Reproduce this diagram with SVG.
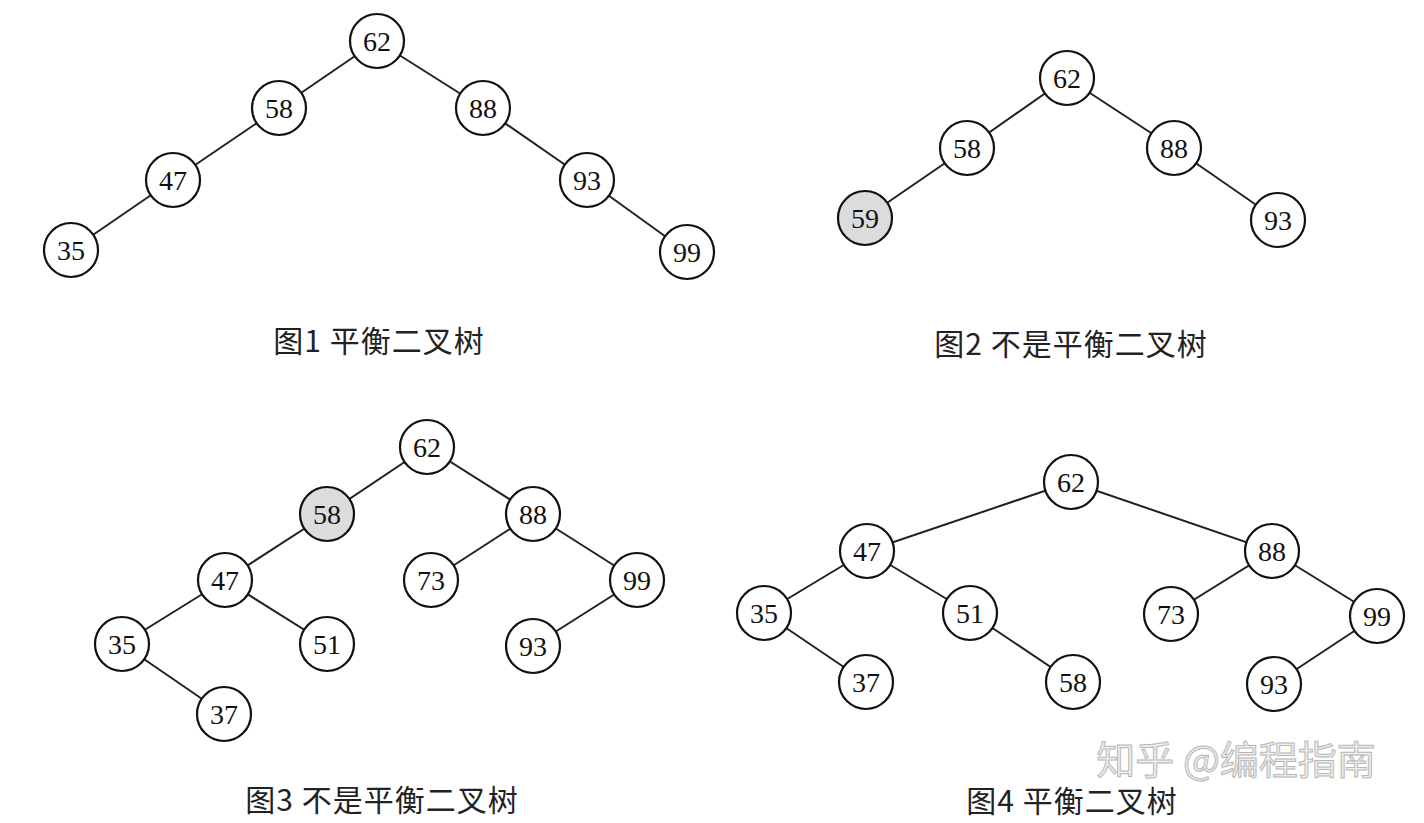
<svg xmlns="http://www.w3.org/2000/svg" width="1424" height="823" viewBox="0 0 1424 823">
<style>
.n circle{fill:#fff;stroke:#111;stroke-width:2.2}
.n.g circle{fill:#dcdcdc}
.n text{font-family:"Liberation Serif","Times New Roman",serif;font-size:28px;fill:#111;text-anchor:middle;dominant-baseline:central}
.e line{stroke:#222;stroke-width:2}
.cap{font-family:"Noto Sans CJK SC","Noto Sans",sans-serif;font-size:30px;letter-spacing:1px;fill:#222;text-anchor:middle}
.wm{font-family:"Noto Sans CJK SC","Noto Sans",sans-serif;font-size:39px;fill:#eeeeee;stroke:#b8b8b8;stroke-width:1;text-anchor:middle}
</style>
<rect width="1424" height="823" fill="#fff"/>
<g class="e" id="connectors">
<line x1="377" y1="41" x2="279" y2="108"/>
<line x1="377" y1="41" x2="483" y2="108"/>
<line x1="279" y1="108" x2="173" y2="180"/>
<line x1="173" y1="180" x2="71" y2="250"/>
<line x1="483" y1="108" x2="587" y2="180"/>
<line x1="587" y1="180" x2="687" y2="252"/>
<line x1="1067" y1="78" x2="967" y2="148"/>
<line x1="1067" y1="78" x2="1174" y2="148"/>
<line x1="967" y1="148" x2="865" y2="218"/>
<line x1="1174" y1="148" x2="1278" y2="220"/>
<line x1="427" y1="447" x2="327" y2="514"/>
<line x1="427" y1="447" x2="533" y2="514"/>
<line x1="327" y1="514" x2="225" y2="580"/>
<line x1="225" y1="580" x2="122" y2="644"/>
<line x1="225" y1="580" x2="327" y2="644"/>
<line x1="122" y1="644" x2="224" y2="714"/>
<line x1="533" y1="514" x2="431" y2="580"/>
<line x1="533" y1="514" x2="637" y2="580"/>
<line x1="637" y1="580" x2="533" y2="646"/>
<line x1="1071" y1="482" x2="867" y2="551"/>
<line x1="1071" y1="482" x2="1272" y2="551"/>
<line x1="867" y1="551" x2="764" y2="613"/>
<line x1="867" y1="551" x2="970" y2="613"/>
<line x1="764" y1="613" x2="866" y2="682"/>
<line x1="970" y1="613" x2="1073" y2="682"/>
<line x1="1272" y1="551" x2="1171" y2="614"/>
<line x1="1272" y1="551" x2="1377" y2="616"/>
<line x1="1377" y1="616" x2="1274" y2="684"/>
</g>
<g class="n" id="f1-62"><circle cx="377" cy="41" r="27"/><text x="377" y="41">62</text></g>
<g class="n" id="f1-58"><circle cx="279" cy="108" r="27"/><text x="279" y="108">58</text></g>
<g class="n" id="f1-88"><circle cx="483" cy="108" r="27"/><text x="483" y="108">88</text></g>
<g class="n" id="f1-47"><circle cx="173" cy="180" r="27"/><text x="173" y="180">47</text></g>
<g class="n" id="f1-93"><circle cx="587" cy="180" r="27"/><text x="587" y="180">93</text></g>
<g class="n" id="f1-35"><circle cx="71" cy="250" r="27"/><text x="71" y="250">35</text></g>
<g class="n" id="f1-99"><circle cx="687" cy="252" r="27"/><text x="687" y="252">99</text></g>
<g class="n" id="f2-62"><circle cx="1067" cy="78" r="27"/><text x="1067" y="78">62</text></g>
<g class="n" id="f2-58"><circle cx="967" cy="148" r="27"/><text x="967" y="148">58</text></g>
<g class="n" id="f2-88"><circle cx="1174" cy="148" r="27"/><text x="1174" y="148">88</text></g>
<g class="n g" id="f2-59"><circle cx="865" cy="218" r="27"/><text x="865" y="218">59</text></g>
<g class="n" id="f2-93"><circle cx="1278" cy="220" r="27"/><text x="1278" y="220">93</text></g>
<g class="n" id="f3-62"><circle cx="427" cy="447" r="27"/><text x="427" y="447">62</text></g>
<g class="n g" id="f3-58"><circle cx="327" cy="514" r="27"/><text x="327" y="514">58</text></g>
<g class="n" id="f3-88"><circle cx="533" cy="514" r="27"/><text x="533" y="514">88</text></g>
<g class="n" id="f3-47"><circle cx="225" cy="580" r="27"/><text x="225" y="580">47</text></g>
<g class="n" id="f3-73"><circle cx="431" cy="580" r="27"/><text x="431" y="580">73</text></g>
<g class="n" id="f3-99"><circle cx="637" cy="580" r="27"/><text x="637" y="580">99</text></g>
<g class="n" id="f3-35"><circle cx="122" cy="644" r="27"/><text x="122" y="644">35</text></g>
<g class="n" id="f3-51"><circle cx="327" cy="644" r="27"/><text x="327" y="644">51</text></g>
<g class="n" id="f3-93"><circle cx="533" cy="646" r="27"/><text x="533" y="646">93</text></g>
<g class="n" id="f3-37"><circle cx="224" cy="714" r="27"/><text x="224" y="714">37</text></g>
<g class="n" id="f4-62"><circle cx="1071" cy="482" r="27"/><text x="1071" y="482">62</text></g>
<g class="n" id="f4-47"><circle cx="867" cy="551" r="27"/><text x="867" y="551">47</text></g>
<g class="n" id="f4-88"><circle cx="1272" cy="551" r="27"/><text x="1272" y="551">88</text></g>
<g class="n" id="f4-35"><circle cx="764" cy="613" r="27"/><text x="764" y="613">35</text></g>
<g class="n" id="f4-51"><circle cx="970" cy="613" r="27"/><text x="970" y="613">51</text></g>
<g class="n" id="f4-73"><circle cx="1171" cy="614" r="27"/><text x="1171" y="614">73</text></g>
<g class="n" id="f4-99"><circle cx="1377" cy="616" r="27"/><text x="1377" y="616">99</text></g>
<g class="n" id="f4-37"><circle cx="866" cy="682" r="27"/><text x="866" y="682">37</text></g>
<g class="n" id="f4-58"><circle cx="1073" cy="682" r="27"/><text x="1073" y="682">58</text></g>
<g class="n" id="f4-93"><circle cx="1274" cy="684" r="27"/><text x="1274" y="684">93</text></g>
<text class="cap" x="379" y="352">图1 平衡二叉树</text>
<text class="cap" x="1071" y="355">图2 不是平衡二叉树</text>
<text class="cap" x="382" y="811">图3 不是平衡二叉树</text>
<text class="cap" x="1072" y="812">图4 平衡二叉树</text>
<text class="wm" x="1236" y="774">知乎 @编程指南</text>
</svg>
